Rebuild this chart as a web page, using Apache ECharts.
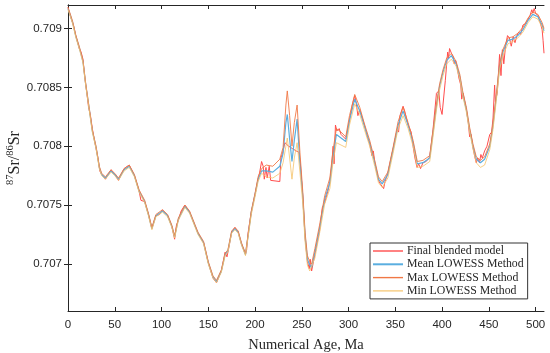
<!DOCTYPE html>
<html>
<head>
<meta charset="utf-8">
<script src="https://cdn.jsdelivr.net/npm/echarts@6/dist/echarts.min.js"></script>
<style>
html,body{margin:0;padding:0;background:#fff;}
#chart{width:550px;height:353px;}
</style>
</head>
<body>
<div id="chart"></div>
<script>
// ---- data ----
const seriesNames = ['Final blended model', 'Mean LOWESS Method', 'Max LOWESS Method', 'Min LOWESS Method'];

const xTicks = [0, 50, 100, 150, 200, 250, 300, 350, 400, 450, 500];
const yTicks = [0.707, 0.7075, 0.708, 0.7085, 0.709];

// ages for the LOWESS curves
const ageLowess = [0, 3, 5, 8.5, 12, 16, 19, 23, 26, 30, 33.5, 36, 40, 46, 50, 54, 60, 65.5, 71, 76,
  82, 86, 89.7, 94, 101, 106.5, 111, 114, 118, 125, 130, 136, 139, 145, 150, 155, 158.8, 164, 168, 171,
  175, 178.5, 182, 185.5, 189.8, 192.6, 196, 200, 203.3, 207, 212, 219, 226.5, 230, 233, 234.5, 237, 239.5, 242, 245,
  248, 251, 253.5, 256, 258.5, 260.5, 264, 269, 274.5, 280, 283.5, 287, 292, 297, 301, 306.6, 312, 317, 322.6, 328,
  332, 336, 342, 347.6, 353, 358.3, 363.7, 369, 373.5, 379.6, 386.8, 390.3, 394, 397.4, 401, 405, 410, 415, 419, 422,
  426, 429.5, 433, 436.6, 441, 445.5, 451, 454.4, 458, 461.5, 465, 470.4, 475.8, 481, 486.5, 492, 497, 502.5, 507, 509];

const meanLowess = [0.70917, 0.70910, 0.70905, 0.70893, 0.70884, 0.70872, 0.70852, 0.70830, 0.70813, 0.70799, 0.70782, 0.70776, 0.70773, 0.70779, 0.70776, 0.70772, 0.70780, 0.70783, 0.70775, 0.70762,
  0.70753, 0.70742, 0.70730, 0.70741, 0.70745, 0.70741, 0.70732, 0.70723, 0.70738, 0.70749, 0.70744, 0.70732, 0.70726, 0.70718, 0.70701, 0.70689, 0.70685, 0.70694, 0.70708, 0.70711,
  0.70727, 0.70730, 0.70727, 0.70717, 0.70708, 0.70724, 0.70744, 0.70759, 0.70772, 0.70779, 0.70779, 0.70778, 0.70783, 0.70794, 0.70820, 0.70827, 0.70806, 0.70787, 0.70805, 0.70823,
  0.70786, 0.70758, 0.70724, 0.70704, 0.70699, 0.70697, 0.70710, 0.70730, 0.70755, 0.70769, 0.70792, 0.70810, 0.70807, 0.70804, 0.70822, 0.70840, 0.70830, 0.70817, 0.70803, 0.70786,
  0.70772, 0.70768, 0.70776, 0.70797, 0.70818, 0.70830, 0.70818, 0.70803, 0.70785, 0.70786, 0.70790, 0.70811, 0.70834, 0.70851, 0.70863, 0.70873, 0.70877, 0.70870, 0.70859, 0.70845,
  0.70831, 0.70814, 0.70800, 0.70789, 0.70786, 0.70789, 0.70800, 0.70817, 0.70842, 0.70868, 0.70880, 0.70890, 0.70891, 0.70894, 0.70899, 0.70907, 0.70912, 0.70910, 0.70903, 0.70898];

const maxLowess = [0.70918, 0.70911, 0.70906, 0.70894, 0.70885, 0.70873, 0.70853, 0.70831, 0.70814, 0.70800, 0.70783, 0.70777, 0.70774, 0.70780, 0.70777, 0.70773, 0.70781, 0.70784, 0.70776, 0.70763,
  0.70754, 0.70743, 0.70731, 0.70742, 0.70746, 0.70742, 0.70733, 0.70724, 0.70739, 0.70750, 0.70745, 0.70733, 0.70727, 0.70719, 0.70702, 0.70690, 0.70686, 0.70695, 0.70709, 0.70712,
  0.70728, 0.70731, 0.70728, 0.70718, 0.70709, 0.70725, 0.70745, 0.70760, 0.70774, 0.70781, 0.70784, 0.70783, 0.70789, 0.70799, 0.70835, 0.70847, 0.70826, 0.70800, 0.70820, 0.70835,
  0.70795, 0.70762, 0.70727, 0.70707, 0.70702, 0.70700, 0.70713, 0.70733, 0.70758, 0.70773, 0.70797, 0.70815, 0.70812, 0.70808, 0.70826, 0.70844, 0.70833, 0.70819, 0.70805, 0.70788,
  0.70774, 0.70770, 0.70778, 0.70799, 0.70821, 0.70833, 0.70820, 0.70805, 0.70787, 0.70788, 0.70792, 0.70813, 0.70836, 0.70853, 0.70865, 0.70875, 0.70879, 0.70872, 0.70861, 0.70847,
  0.70833, 0.70816, 0.70802, 0.70791, 0.70788, 0.70791, 0.70802, 0.70819, 0.70844, 0.70870, 0.70882, 0.70892, 0.70893, 0.70896, 0.70901, 0.70909, 0.70914, 0.70912, 0.70905, 0.70900];

const minLowess = [0.70916, 0.70909, 0.70904, 0.70892, 0.70883, 0.70871, 0.70851, 0.70829, 0.70812, 0.70798, 0.70781, 0.70775, 0.70772, 0.70778, 0.70775, 0.70771, 0.70779, 0.70782, 0.70774, 0.70761,
  0.70752, 0.70741, 0.70729, 0.70740, 0.70744, 0.70740, 0.70731, 0.70722, 0.70737, 0.70748, 0.70743, 0.70731, 0.70725, 0.70717, 0.70700, 0.70688, 0.70684, 0.70693, 0.70707, 0.70710,
  0.70726, 0.70729, 0.70726, 0.70716, 0.70707, 0.70723, 0.70742, 0.70757, 0.70770, 0.70777, 0.70774, 0.70773, 0.70777, 0.70786, 0.70800, 0.70807, 0.70790, 0.70772, 0.70790, 0.70803,
  0.70778, 0.70752, 0.70719, 0.70699, 0.70694, 0.70693, 0.70705, 0.70726, 0.70751, 0.70764, 0.70787, 0.70803, 0.70801, 0.70799, 0.70818, 0.70836, 0.70827, 0.70814, 0.70800, 0.70783,
  0.70769, 0.70765, 0.70773, 0.70794, 0.70815, 0.70826, 0.70815, 0.70800, 0.70782, 0.70783, 0.70787, 0.70808, 0.70831, 0.70848, 0.70860, 0.70870, 0.70874, 0.70868, 0.70857, 0.70843,
  0.70829, 0.70812, 0.70798, 0.70786, 0.70782, 0.70784, 0.70797, 0.70814, 0.70839, 0.70865, 0.70877, 0.70887, 0.70889, 0.70892, 0.70897, 0.70905, 0.70910, 0.70908, 0.70901, 0.70896];

// ages and values for the final blended model
const ageFinal = [0, 2, 4, 6, 8, 10, 12, 14, 16, 18, 20, 22, 24, 26, 28, 30, 32, 34, 36, 40,
  46, 50, 54, 60, 65.5, 71, 76, 78, 82, 86, 89.7, 94, 98, 101, 106.5, 111, 114, 116, 118, 121,
  125, 130, 136, 139, 145, 150, 155, 158.8, 164, 168, 170, 172, 175, 178.5, 182, 185.5, 189.8, 191, 192.5, 196,
  200, 203, 205, 207, 208.7, 209.9, 211.7, 213, 215.2, 216.7, 218, 226.5, 227.6, 229.4, 231.9, 236, 240, 244, 246.8, 248.5,
  251, 253.5, 256, 258, 259, 260.5, 262, 264, 269, 272, 274.5, 278, 280, 282, 283.5, 284.5, 286, 287.5, 290, 292,
  297, 301, 304, 306.6, 308, 310, 312, 317, 320, 322.6, 325, 326.5, 328, 332, 334, 336, 337.5, 339, 342, 347.6,
  352, 353.5, 355, 358.3, 360, 363.7, 367, 369, 371, 373.2, 375, 377, 379.6, 383, 386.8, 390.3, 394, 396.5, 398, 400,
  401.5, 403.5, 406, 407, 408, 410, 412, 413, 414.5, 416, 418, 420, 421, 422.5, 426, 428, 429.5, 431, 433, 435,
  436.6, 438, 440, 441.5, 443, 445.5, 448, 451, 453, 454.5, 456.2, 457, 459, 461.5, 463, 464.5, 466, 468, 470, 472,
  474, 476, 478, 480, 482, 484, 486.5, 489, 492, 494, 496, 497, 498.5, 500, 502.5, 505, 507, 508, 509];

const finalModel = [0.70918, 0.70912, 0.70907, 0.70902, 0.70895, 0.70889, 0.70883, 0.70880, 0.70874, 0.70858, 0.70846, 0.70833, 0.70826, 0.70815, 0.70806, 0.70798, 0.70790, 0.70779, 0.70776, 0.70772,
  0.70780, 0.70776, 0.70771, 0.70781, 0.70784, 0.70775, 0.70762, 0.70754, 0.70753, 0.70742, 0.70730, 0.70741, 0.70742, 0.70746, 0.70741, 0.70732, 0.70721, 0.70733, 0.70737, 0.70745,
  0.70750, 0.70744, 0.70732, 0.70726, 0.70718, 0.70701, 0.70688, 0.70684, 0.70694, 0.70710, 0.70706, 0.70714, 0.70727, 0.70731, 0.70727, 0.70717, 0.70708, 0.70712, 0.70726, 0.70744,
  0.70759, 0.70771, 0.70778, 0.70787, 0.70783, 0.70772, 0.70782, 0.70773, 0.70783, 0.70771, 0.70770, 0.70770, 0.70790, 0.70794, 0.70803, 0.70800, 0.70798, 0.70796, 0.70795, 0.70785,
  0.70758, 0.70722, 0.70702, 0.70696, 0.70704, 0.70694, 0.70700, 0.70708, 0.70728, 0.70748, 0.70752, 0.70762, 0.70770, 0.70784, 0.70800, 0.70785, 0.70818, 0.70813, 0.70815, 0.70810,
  0.70806, 0.70822, 0.70835, 0.70843, 0.70838, 0.70826, 0.70831, 0.70818, 0.70808, 0.70802, 0.70792, 0.70796, 0.70786, 0.70771, 0.70768, 0.70767, 0.70764, 0.70770, 0.70777, 0.70798,
  0.70814, 0.70812, 0.70826, 0.70834, 0.70830, 0.70818, 0.70812, 0.70800, 0.70790, 0.70782, 0.70785, 0.70781, 0.70786, 0.70787, 0.70791, 0.70814, 0.70845, 0.70847, 0.70833, 0.70827,
  0.70826, 0.70856, 0.70880, 0.70875, 0.70883, 0.70879, 0.70876, 0.70870, 0.70873, 0.70868, 0.70858, 0.70852, 0.70840, 0.70845, 0.70831, 0.70820, 0.70808, 0.70810, 0.70799, 0.70791,
  0.70786, 0.70790, 0.70786, 0.70793, 0.70790, 0.70796, 0.70800, 0.70810, 0.70812, 0.70824, 0.70852, 0.70838, 0.70845, 0.70878, 0.70860, 0.70882, 0.70870, 0.70886, 0.70894, 0.70892,
  0.70885, 0.70893, 0.70888, 0.70894, 0.70897, 0.70895, 0.70903, 0.70904, 0.70908, 0.70911, 0.70916, 0.70913, 0.70917, 0.70913, 0.70911, 0.70905, 0.70899, 0.70890, 0.70879];

// ---- chart ----
const colors = ['#ff4d4d', '#5aaee0', '#f07846', '#f5c36a'];
const pair = (xs, ys) => xs.map((x, i) => [x, ys[i]]);

const axisColor = '#262626';
const tickFont = { fontFamily: 'Liberation Sans, Arial, sans-serif', fontSize: 11.5, color: axisColor };

const chart = echarts.init(document.getElementById('chart'), null, { renderer: 'canvas' });

const lineSeries = (name, data, color, width, z) => ({
  name: name, type: 'line', data: data, xAxisIndex: 0, yAxisIndex: 0,
  showSymbol: false, symbol: 'none', animation: false, z: z,
  lineStyle: { color: color, width: width }, itemStyle: { color: color }
});

chart.setOption({
  animation: false,
  backgroundColor: '#ffffff',
  grid: { left: 68, right: 6, top: 5, bottom: 42, containLabel: false, outerBoundsMode: 'none' },
  xAxis: [
    {
      type: 'value', min: 0, max: 509, position: 'bottom',
      name: 'Numerical Age, Ma', nameLocation: 'middle', nameGap: 27, nameMoveOverlap: false,
      nameTextStyle: { fontFamily: 'Liberation Serif, serif', fontSize: 14.5, color: axisColor },
      axisLine: { show: true, lineStyle: { color: axisColor, width: 1 } },
      axisTick: { show: true, inside: true, length: 4, customValues: xTicks, lineStyle: { color: axisColor } },
      axisLabel: Object.assign({ show: true, margin: 8, customValues: xTicks }, tickFont),
      splitLine: { show: false }
    },
    {
      type: 'value', min: 0, max: 509, position: 'top',
      axisLine: { show: true, lineStyle: { color: axisColor, width: 1 } },
      axisTick: { show: true, inside: true, length: 4, customValues: xTicks, lineStyle: { color: axisColor } },
      axisLabel: { show: false },
      splitLine: { show: false }
    }
  ],
  yAxis: [
    {
      type: 'value', min: 0.7066, max: 0.7092, position: 'left',
      name: '{sup|87}{m|Sr/}{sup|86}{m|Sr}', nameLocation: 'middle', nameGap: 45, nameRotate: 90, nameMoveOverlap: false,
      nameTextStyle: {
        fontFamily: 'Liberation Serif, serif', color: axisColor,
        rich: {
          m: { fontFamily: 'Liberation Serif, serif', fontSize: 16, color: axisColor, lineHeight: 18, verticalAlign: 'bottom' },
          sup: { fontFamily: 'Liberation Serif, serif', fontSize: 10.5, color: axisColor, lineHeight: 18, verticalAlign: 'top', padding: [0, 0, 6, 0] }
        }
      },
      axisLine: { show: true, lineStyle: { color: axisColor, width: 1 } },
      axisTick: { show: true, inside: true, length: 4, customValues: yTicks, lineStyle: { color: axisColor } },
      axisLabel: Object.assign({ show: true, margin: 6, customValues: yTicks, formatter: v => String(+v.toFixed(4)) }, tickFont),
      splitLine: { show: false }
    },
    {
      type: 'value', min: 0.7066, max: 0.7092, position: 'right',
      axisLine: { show: true, lineStyle: { color: axisColor, width: 1 } },
      axisTick: { show: true, inside: true, length: 4, customValues: yTicks, lineStyle: { color: axisColor } },
      axisLabel: { show: false },
      splitLine: { show: false }
    }
  ],
  legend: {
    orient: 'vertical', left: 370, top: 243,
    padding: [2, 4, 2, 3], itemGap: 1.3,
    itemWidth: 30, itemHeight: 12,
    backgroundColor: '#ffffff',
    borderColor: '#333333', borderWidth: 1,
    textStyle: { fontFamily: 'Liberation Serif, serif', fontSize: 11.8, lineHeight: 12, color: axisColor, padding: [0, 0, 0, -1] },
    data: [
      { name: seriesNames[0], icon: 'path://M0,5.3 L30,5.3 L30,6.7 L0,6.7 Z', itemStyle: { color: colors[0] } },
      { name: seriesNames[1], icon: 'path://M0,5 L30,5 L30,7 L0,7 Z', itemStyle: { color: colors[1] } },
      { name: seriesNames[2], icon: 'path://M0,5.3 L30,5.3 L30,6.7 L0,6.7 Z', itemStyle: { color: colors[2] } },
      { name: seriesNames[3], icon: 'path://M0,5.4 L30,5.4 L30,6.6 L0,6.6 Z', itemStyle: { color: colors[3] } }
    ]
  },
  series: [
    lineSeries(seriesNames[0], pair(ageFinal, finalModel), colors[0], 1, 2),
    lineSeries(seriesNames[1], pair(ageLowess, meanLowess), colors[1], 1.2, 3),
    lineSeries(seriesNames[2], pair(ageLowess, maxLowess), colors[2], 0.9, 4),
    lineSeries(seriesNames[3], pair(ageLowess, minLowess), colors[3], 0.8, 5)
  ]
});
</script>
</body>
</html>
